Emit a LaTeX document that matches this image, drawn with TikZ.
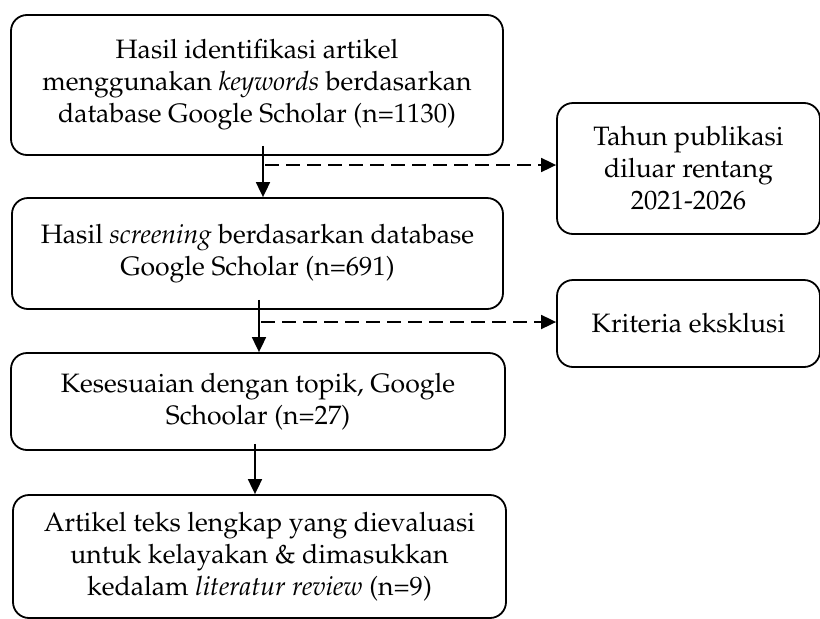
\documentclass[tikz,border=0pt]{standalone}
\usepackage[T1]{fontenc}
\usepackage{mathpazo}
\usetikzlibrary{arrows.meta}

\begin{document}
\begin{tikzpicture}[x=1pt,y=1pt,
  kotak/.style={draw, line width=1.8pt, rounded corners=16pt, align=center,
    inner sep=0pt, font=\fontsize{26.6}{32}\selectfont},
  panah/.style={line width=1.8pt, -{Triangle[length=15pt,width=14pt]}},
  putus/.style={panah, dash pattern=on 14pt off 7pt}]
  \useasboundingbox (0,0) rectangle (820,-619);
  % alur utama
  \node[kotak, minimum width=492pt, minimum height=140pt] (ident) at (257,-85)
    {Hasil identifikasi artikel\\menggunakan \textit{keywords} berdasarkan\\database Google Scholar (n=1130)};
  \node[kotak, minimum width=491pt, minimum height=111pt] (screen) at (257.5,-253.5)
    {Hasil \textit{screening} berdasarkan database\\Google Scholar (n=691)};
  \node[kotak, minimum width=494pt, minimum height=97pt] (topik) at (258,-401.5)
    {Kesesuaian dengan topik, Google\\Schoolar (n=27)};
  \node[kotak, minimum width=493pt, minimum height=123pt] (lengkap) at (259.5,-556.5)
    {Artikel teks lengkap yang dievaluasi\\untuk kelayakan \& dimasukkan\\kedalam \textit{literatur review} (n=9)};
  % kotak samping
  \node[kotak, minimum width=263pt, minimum height=131pt] (tahun) at (688.5,-168.5)
    {Tahun publikasi\\diluar rentang\\2021-2026};
  \node[kotak, minimum width=263pt, minimum height=87pt] (kriteria) at (688.5,-323.5)
    {Kriteria eksklusi};
  % panah
  \draw[panah] ([xshift=6,yshift=10]ident.south) -- ([xshift=6]ident.south |- screen.north);
  \draw[panah] ([xshift=1.5,yshift=10]screen.south) -- ([xshift=1.5]screen.south |- topik.north);
  \draw[panah] ([xshift=-3,yshift=7]topik.south) -- ([xshift=-3]topik.south |- lengkap.north);
  \coordinate (c1) at (265,-165);
  \coordinate (c2) at (261,-322);
  \draw[putus] (c1) -- (c1 -| tahun.west);
  \draw[putus] (c2) -- (c2 -| kriteria.west);
\end{tikzpicture}
\end{document}
